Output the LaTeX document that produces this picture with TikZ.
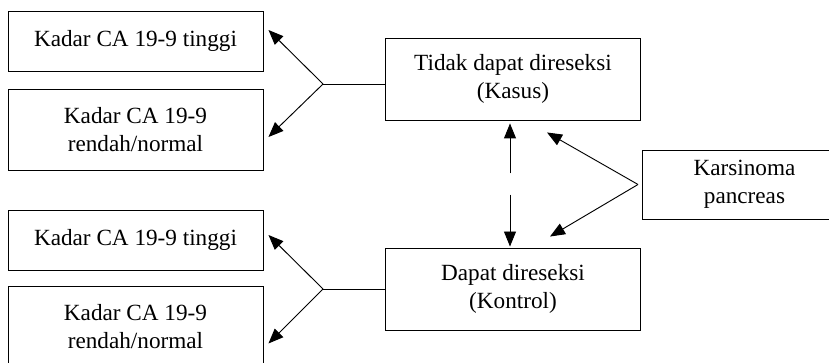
\documentclass[tikz,border=0pt]{standalone}
\usepackage{fontspec}
\setmainfont{Liberation Serif}
\usetikzlibrary{arrows.meta}

\begin{document}
\begin{tikzpicture}[line width=0.8pt, >={Triangle[length=0.45cm, width=0.36cm]},
  box/.style={rectangle, draw=black, align=center, inner sep=0,
    minimum width=7.65cm, font=\fontsize{19.8}{24}\selectfont}]
  \useasboundingbox (0,0) rectangle (24.87,-10.89);

  \node[box,
    minimum height = 2.46cm] (kasus) at (15.39,-2.37) {Tidak dapat direseksi\\(Kasus)};
  \node[box,
    minimum height = 2.46cm] (kontrol) at ([yshift=-6.3cm]kasus.center) {Dapat direseksi\\(Kontrol)};
  \node[box,
    anchor=west,
    minimum height = 2.07cm,
    minimum width = 6.12cm] (karsinoma) at (19.26,-5.535) {Karsinoma\\pancreas};

  \node[box,
    minimum height = 1.8cm] (tinggi1) at (4.065,-1.23) {Kadar CA 19-9 tinggi};
  \node[box,
    minimum height = 2.43cm] (rendah1) at (4.065,-3.885) {Kadar CA 19-9\\rendah/normal};
  \node[box,
    minimum height = 1.8cm] (tinggi2) at (4.065,-7.2) {Kadar CA 19-9 tinggi};
  \node[box,
    anchor=north,
    minimum height = 2.43cm] (rendah2) at (4.065,-8.58) {Kadar CA 19-9\\rendah/normal};

  \coordinate (split1) at ([xshift=-1.86cm, yshift=-0.15cm]kasus.west);
  \coordinate (split2) at ([xshift=-1.86cm]kontrol.west);

  \draw (kasus.west |- split1) -- (split1);
  \draw[->] (split1) -- ([xshift=0.15cm, yshift=0.33cm]tinggi1.east);
  \draw[->] (split1) -- ([xshift=0.15cm, yshift=-0.225cm]rendah1.east);

  \draw (kontrol.west) -- (split2);
  \draw[->] (split2) -- ([xshift=0.15cm, yshift=0.15cm]tinggi2.east);
  \draw[->] (split2) -- ([xshift=0.15cm, yshift=-0.495cm]rendah2.east);

  \coordinate (gap1) at ([xshift=-0.09cm, yshift=-1.59cm]kasus.south);
  \coordinate (gap2) at ([xshift=-0.09cm, yshift=1.59cm]kontrol.north);
  \draw[->] (gap1) -- ([xshift=-0.09cm, yshift=-0.09cm]kasus.south);
  \draw[->] (gap2) -- ([xshift=-0.09cm, yshift=0.03cm]kontrol.north);

  \coordinate (split3) at ([xshift=-0.12cm]karsinoma.west);
  \draw[->] (split3) -- ([xshift=1.02cm, yshift=-0.36cm]kasus.south);
  \draw[->] (split3) -- ([xshift=1.11cm, yshift=0.33cm]kontrol.north);
\end{tikzpicture}
\end{document}
